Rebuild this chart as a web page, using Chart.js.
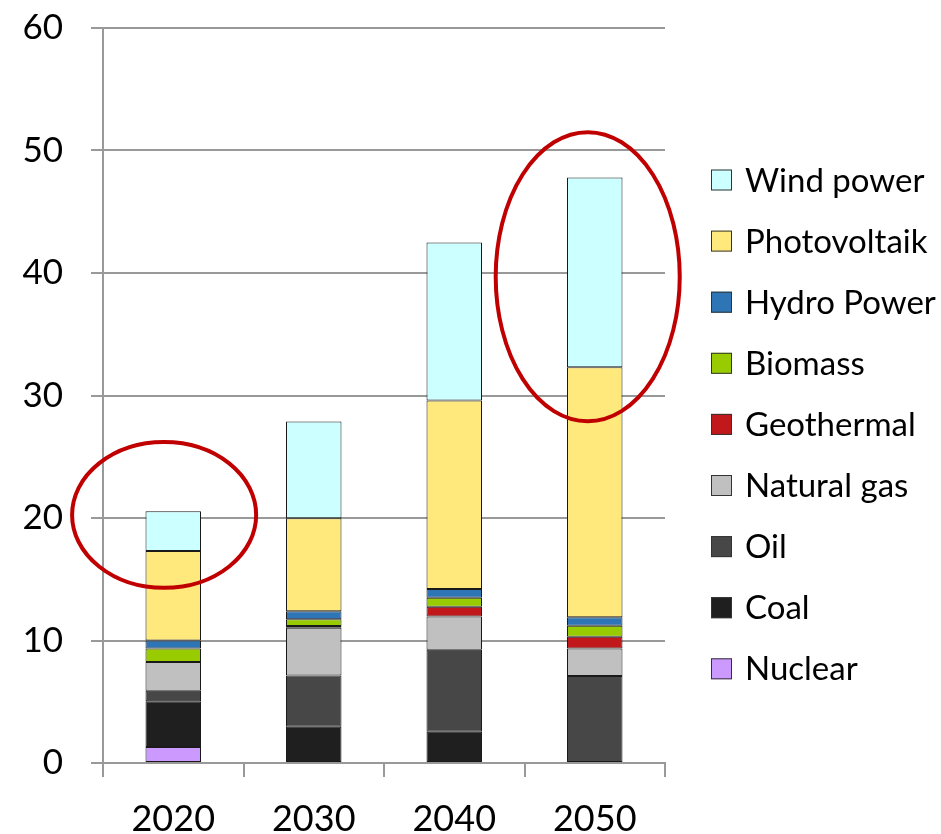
<!DOCTYPE html>
<html>
<head>
<meta charset="utf-8">
<script src="https://cdn.jsdelivr.net/npm/chart.js@4/dist/chart.umd.min.js"></script>
<style>
  html, body { margin: 0; padding: 0; background: #ffffff; }
  #wrap { width: 941px; height: 834px; position: relative; }
</style>
</head>
<body>
<div id="wrap"><canvas id="c"></canvas></div>
<script>
// ---- data ----
const categories = ['2020', '2030', '2040', '2050'];
const yTicks = [0, 10, 20, 30, 40, 50, 60];

const nuclear     = [1.3, 0, 0, 0];
const coal        = [3.75, 2.95, 2.55, 0];
const oil         = [0.85, 4.2, 6.7, 7.1];
const naturalGas  = [2.35, 3.9, 2.7, 2.25];
const geothermal  = [0, 0.13, 0.8, 0.95];
const biomass     = [1.1, 0.55, 0.75, 0.9];
const hydroPower  = [0.65, 0.65, 0.7, 0.7];
const photovoltaik= [7.3, 7.6, 15.4, 20.4];
const windPower   = [3.25, 7.9, 12.9, 15.5];

const seriesNames = ['Nuclear', 'Coal', 'Oil', 'Natural gas', 'Geothermal', 'Biomass', 'Hydro Power', 'Photovoltaik', 'Wind power'];
const seriesValues = [nuclear, coal, oil, naturalGas, geothermal, biomass, hydroPower, photovoltaik, windPower];
const seriesColors = ['#CC99FF', '#1F1F1F', '#474747', '#C0C0C0', '#C0181B', '#99CC00', '#2E75B6', '#FFE87C', '#CCFFFF'];

// highlighted regions (category index, value) with radii in category / value units
const highlights = [
  { cat: -0.065, value: 20.25, rCat: 0.655, rValue: 5.95 },
  { cat: 2.95, value: 39.7, rCat: 0.655, rValue: 11.8 }
];

const FONT = 'Lato, "Open Sans", "DejaVu Sans", sans-serif';

const datasets = seriesNames.map((name, i) => ({
  label: name,
  data: seriesValues[i],
  backgroundColor: seriesColors[i],
  borderColor: '#1a1a1a',
  borderWidth: 1,
  borderSkipped: false,
  barPercentage: 0.395,
  categoryPercentage: 1.0
}));

const ellipsePlugin = {
  id: 'ellipses',
  afterDatasetsDraw(chart) {
    const ctx = chart.ctx;
    const xs = chart.scales.x, ys = chart.scales.y;
    const p0 = xs.getPixelForValue(0), p1 = xs.getPixelForValue(1);
    const step = p1 - p0;
    ctx.save();
    ctx.strokeStyle = '#C00000';
    ctx.lineWidth = 4;
    highlights.forEach(h => {
      const cx = p0 + h.cat * step;
      const cy = ys.getPixelForValue(h.value);
      const rx = h.rCat * step;
      const ry = Math.abs(ys.getPixelForValue(h.value + h.rValue) - cy);
      ctx.beginPath();
      ctx.ellipse(cx, cy, rx, ry, 0, 0, Math.PI * 2);
      ctx.stroke();
    });
    ctx.restore();
  }
};

const legendPlugin = {
  id: 'customLegend',
  afterDraw(chart) {
    const ctx = chart.ctx;
    const area = chart.chartArea;
    const boxX = area.right + 46;
    const box = 21;
    const rowStep = 61.1;
    const y0 = area.top + 152;
    ctx.save();
    ctx.font = '33px ' + FONT;
    ctx.textBaseline = 'middle';
    ctx.textAlign = 'left';
    const order = chart.data.datasets.map((d, i) => i).reverse();
    order.forEach((di, k) => {
      const ds = chart.data.datasets[di];
      const cy = y0 + k * rowStep;
      ctx.fillStyle = ds.backgroundColor;
      ctx.fillRect(boxX, cy - box / 2, box, box);
      ctx.strokeStyle = '#333333';
      ctx.lineWidth = 1;
      ctx.strokeRect(boxX + 0.5, cy - box / 2 + 0.5, box - 1, box - 1);
      ctx.fillStyle = '#000000';
      ctx.fillText(ds.label, boxX + 34, cy + 1);
    });
    ctx.restore();
  }
};

new Chart(document.getElementById('c'), {
  type: 'bar',
  data: { labels: categories, datasets },
  options: {
    responsive: true,
    maintainAspectRatio: false,
    animation: false,
    layout: { padding: { top: 28, right: 276, left: 0, bottom: 0 } },
    plugins: { legend: { display: false }, tooltip: { enabled: false } },
    scales: {
      x: {
        stacked: true,
        offset: true,
        grid: {
          offset: true,
          drawOnChartArea: false,
          drawTicks: true,
          tickLength: 14,
          color: '#999999',
          lineWidth: 2
        },
        border: { display: true, color: '#999999', width: 2 },
        ticks: { font: { family: FONT, size: 36 }, color: '#000000', padding: 21, maxRotation: 0 },
        afterFit(s) { s.height = 71; s.paddingLeft = 0; s.paddingRight = 0; }
      },
      y: {
        stacked: true,
        min: 0,
        max: 60,
        afterBuildTicks(s) { s.ticks = yTicks.map(v => ({ value: v })); },
        grid: {
          color: '#999999',
          lineWidth: 2,
          drawTicks: true,
          tickLength: 12
        },
        border: { display: true, color: '#999999', width: 2 },
        ticks: { font: { family: FONT, size: 35 }, color: '#000000', padding: 28 },
        afterFit(s) { s.width = 103; s.paddingTop = 0; s.paddingBottom = 0; }
      }
    }
  },
  plugins: [ellipsePlugin, legendPlugin]
});
</script>
</body>
</html>
